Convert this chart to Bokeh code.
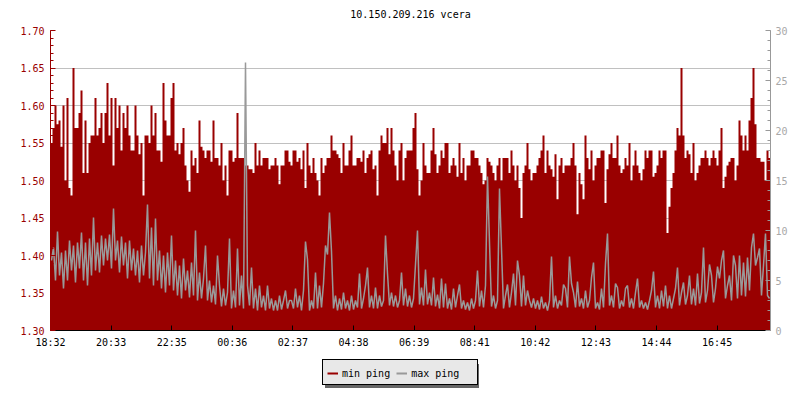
from bokeh.plotting import figure
from bokeh.layouts import column
from bokeh.models import (Range1d, LinearAxis, SingleIntervalTicker, FixedTicker,
                          PrintfTickFormatter, Legend, LegendItem)
from bokeh.embed import file_html
from bokeh.resources import INLINE

title_text = "10.150.209.216 vcera"
tick_labels = ["18:32", "20:33", "22:35", "00:36", "02:37", "04:38",
               "06:39", "08:41", "10:42", "12:43", "14:44", "16:45"]
tick_minutes = [0.0, 121.2, 242.4, 363.6, 484.8, 606.0,
                727.2, 848.4, 969.6, 1090.8, 1212.0, 1333.2]
left_ticks = [1.30, 1.35, 1.40, 1.45, 1.50, 1.55, 1.60, 1.65, 1.70]
span_minutes = 1440
step_minutes = 4
series_names = ["min ping", "max ping"]

# min ping (left axis), one value per 4 minutes
min_ping = [
    1.55, 1.57, 1.60, 1.575, 1.58, 1.545, 1.60, 1.50, 1.61, 1.49,
    1.48, 1.65, 1.57, 1.57, 1.59, 1.62, 1.51, 1.58, 1.51, 1.55,
    1.56, 1.56, 1.61, 1.56, 1.57, 1.59, 1.55, 1.59, 1.63, 1.56,
    1.61, 1.52, 1.61, 1.57, 1.60, 1.54, 1.59, 1.57, 1.60, 1.56,
    1.54, 1.54, 1.60, 1.56, 1.535, 1.55, 1.48, 1.56, 1.56, 1.55,
    1.60, 1.56, 1.59, 1.54, 1.54, 1.525, 1.63, 1.58, 1.56, 1.56,
    1.61, 1.63, 1.54, 1.55, 1.535, 1.55, 1.57, 1.52, 1.50, 1.485,
    1.54, 1.52, 1.53, 1.51, 1.58, 1.545, 1.54, 1.53, 1.54, 1.54,
    1.525, 1.58, 1.53, 1.53, 1.52, 1.55, 1.50, 1.52, 1.48, 1.54,
    1.54, 1.525, 1.53, 1.59, 1.53, 1.53, 1.53, 1.52, 1.52, 1.515,
    1.515, 1.51, 1.55, 1.52, 1.54, 1.52, 1.53, 1.53, 1.53, 1.515,
    1.52, 1.52, 1.53, 1.52, 1.495, 1.52, 1.52, 1.54, 1.54,
    1.525, 1.52, 1.54, 1.54, 1.525, 1.53, 1.515, 1.54, 1.49, 1.55,
    1.52, 1.51, 1.53, 1.51, 1.50, 1.48, 1.53, 1.51, 1.52, 1.53,
    1.53, 1.56, 1.54, 1.54, 1.535, 1.53, 1.51, 1.55, 1.52, 1.52,
    1.54, 1.56, 1.52, 1.52, 1.53, 1.53, 1.525, 1.54, 1.51, 1.53,
    1.535, 1.54, 1.515, 1.52, 1.48, 1.54, 1.56, 1.55, 1.55, 1.57,
    1.535, 1.57, 1.54, 1.52, 1.50, 1.54, 1.55, 1.50, 1.53, 1.54,
    1.54, 1.54, 1.57, 1.59, 1.515, 1.48, 1.50, 1.55, 1.52, 1.51,
    1.51, 1.54, 1.57, 1.535, 1.51, 1.52, 1.54, 1.53, 1.55, 1.55,
    1.51, 1.52, 1.53, 1.52, 1.505, 1.55, 1.51, 1.53, 1.50, 1.52,
    1.52, 1.54, 1.54, 1.53, 1.53, 1.52, 1.51, 1.495, 1.50, 1.53,
    1.525, 1.52, 1.51, 1.50, 1.52, 1.53, 1.50, 1.53, 1.53, 1.53,
    1.51, 1.54, 1.52, 1.50, 1.52, 1.49, 1.45, 1.51, 1.52, 1.55,
    1.515, 1.50, 1.51, 1.51, 1.52, 1.53, 1.54, 1.56, 1.51, 1.54,
    1.52, 1.515, 1.505, 1.535, 1.475, 1.52, 1.53, 1.51, 1.52, 1.52,
    1.52, 1.53, 1.55, 1.52, 1.455, 1.51, 1.495, 1.475, 1.56, 1.53,
    1.515, 1.54, 1.50, 1.52, 1.53, 1.53, 1.54, 1.54, 1.47, 1.515,
    1.535, 1.55, 1.53, 1.53, 1.56, 1.52, 1.51, 1.515, 1.53, 1.52,
    1.55, 1.50, 1.52, 1.54, 1.52, 1.51, 1.50, 1.515, 1.54, 1.53,
    1.54, 1.54, 1.505, 1.51, 1.52, 1.54, 1.53, 1.54, 1.54, 1.43,
    1.465, 1.49, 1.51, 1.54, 1.57, 1.56, 1.65, 1.56, 1.53, 1.54,
    1.535, 1.51, 1.55, 1.50, 1.51, 1.52, 1.53, 1.53, 1.54, 1.53,
    1.52, 1.53, 1.54, 1.53, 1.52, 1.54, 1.57, 1.49, 1.505, 1.52,
    1.525, 1.53, 1.53, 1.50, 1.52, 1.58, 1.56, 1.54, 1.56, 1.54,
    1.58, 1.61, 1.65, 1.575, 1.53, 1.53, 1.525, 1.525, 1.50, 1.54,
    1.53,
]

# max ping (right axis), one value per 4 minutes
max_ping = [
    7.0, 8.3, 5.0, 9.9, 5.5, 7.8, 4.2, 8.0, 5.0, 9.0,
    6.0, 8.5, 4.8, 8.8, 6.2, 9.8, 5.0, 8.8, 4.5, 9.2,
    5.5, 11.3, 6.0, 8.8, 5.8, 9.5, 6.5, 9.2, 7.0, 9.6,
    6.2, 12.2, 7.0, 9.0, 5.8, 9.4, 6.5, 8.8, 5.2, 9.0,
    6.0, 8.2, 5.5, 8.0, 4.8, 8.5, 5.5, 7.8, 12.6, 5.2,
    10.3, 4.5, 11.2, 5.0, 8.0, 4.2, 7.5, 3.8, 7.8, 4.5,
    9.5, 4.0, 7.0, 3.5, 6.5, 3.2, 7.2, 4.0, 6.0, 3.3,
    6.8, 3.5, 10.0, 3.0, 5.8, 3.2, 5.2, 8.5, 3.0, 5.0,
    2.8, 4.5, 2.6, 7.5, 4.5, 2.4, 4.2, 2.5, 3.8, 9.2,
    2.2, 4.0, 2.3, 8.2, 2.5, 5.5, 2.2, 26.8, 4.5, 2.5,
    6.3, 2.2, 4.2, 2.0, 4.5, 2.3, 3.5, 2.0, 4.5, 2.2,
    3.2, 2.0, 3.0, 2.0, 3.5, 2.1, 3.0, 4.0, 2.2, 3.0,
    3.0, 2.2, 4.2, 2.3, 3.5, 2.0, 4.0, 8.9, 7.1, 2.0,
    3.0, 2.2, 5.8, 2.2, 4.5, 2.3, 4.7, 8.5, 7.6, 11.8,
    7.9, 2.2, 3.5, 2.0, 3.2, 2.1, 3.8, 2.2, 3.0, 2.0,
    3.5, 2.1, 3.0, 2.3, 5.7, 2.2, 3.2, 4.5, 6.3, 2.3,
    3.5, 2.2, 4.3, 2.2, 3.5, 2.4, 3.0, 9.5, 5.7, 2.5,
    3.8, 2.4, 3.5, 2.3, 3.0, 5.8, 2.5, 4.2, 2.4, 3.5,
    2.3, 3.2, 6.6, 10.0, 2.6, 4.3, 2.5, 6.1, 2.6, 3.8,
    2.5, 5.3, 2.4, 3.6, 2.2, 5.2, 2.3, 4.7, 2.2, 3.2,
    2.1, 4.2, 2.3, 3.5, 4.6, 2.2, 3.0, 2.1, 2.8, 2.0,
    3.2, 2.2, 3.0, 6.0, 2.4, 4.0, 2.3, 4.5, 15.4, 8.8,
    2.4, 3.5, 2.2, 3.0, 14.2, 8.2, 2.2, 3.5, 4.6, 2.3,
    3.8, 5.7, 2.5, 7.0, 5.5, 2.4, 5.5, 2.5, 4.0, 3.0,
    2.3, 3.2, 2.2, 3.0, 2.1, 3.4, 2.2, 2.8, 2.0, 3.0,
    7.4, 2.3, 3.5, 2.2, 3.0, 2.5, 4.6, 4.2, 2.3, 7.4,
    4.7, 3.8, 2.3, 4.9, 2.4, 3.2, 2.2, 4.0, 2.3, 3.0,
    5.3, 6.8, 2.2, 2.8, 2.1, 4.2, 2.3, 6.7, 9.7, 2.5,
    3.5, 2.3, 4.7, 4.3, 2.2, 3.0, 2.4, 4.2, 4.5, 2.3,
    3.2, 2.2, 3.8, 5.2, 2.3, 3.0, 2.2, 2.8, 2.1, 3.0,
    4.0, 5.9, 2.3, 3.5, 2.2, 4.0, 2.4, 4.5, 2.2, 3.5,
    2.2, 3.2, 4.2, 6.3, 2.5, 3.8, 4.8, 2.6, 3.5, 5.5,
    2.6, 4.2, 2.5, 5.7, 2.7, 3.8, 8.3, 2.8, 4.0, 6.6,
    5.5, 2.8, 4.2, 6.4, 5.2, 7.0, 8.0, 3.2, 4.5, 5.5,
    3.0, 7.5, 6.5, 3.2, 7.5, 3.5, 6.8, 3.4, 7.3, 4.0,
    8.3, 9.7, 6.5, 7.3, 8.2, 3.5, 6.5, 9.7, 3.5, 3.2,
]

sample_t = [step_minutes * i + step_minutes / 2 for i in range(len(max_ping))]
# step outline of the min ping area (each value held for its 4-minute interval)
step_x, step_y = [], []
for i, v in enumerate(min_ping):
    step_x += [i * step_minutes, (i + 1) * step_minutes]
    step_y += [v, v]

RED = "#990000"
GRAY = "#999999"
FONT = "DejaVu Sans Mono"

p = figure(frame_width=720, frame_height=300, output_backend="svg",
           toolbar_location=None, title=title_text,
           x_range=Range1d(0, span_minutes),
           y_range=Range1d(left_ticks[0], left_ticks[-1]),
           min_border_left=50, min_border_right=25, min_border_top=30,
           min_border_bottom=20)
p.extra_y_ranges = {"max": Range1d(0, 30)}
p.outline_line_color = None
p.background_fill_color = "white"
p.border_fill_color = "white"

p.title.align = "center"
p.title.vertical_align = "top"
p.title.text_font = FONT
p.title.text_font_size = "10px"
p.title.text_font_style = "normal"
p.title.text_color = "black"
p.title.standoff = 17

p.varea(x=step_x, y1=left_ticks[0], y2=step_y, fill_color=RED)
p.line(x=sample_t, y=max_ping, y_range_name="max",
       line_color=GRAY, line_width=1.5)

# left axis
minor_left = [round(left_ticks[0] + 0.01 * k, 2) for k in range(41)]
left_ticker = FixedTicker(ticks=left_ticks, minor_ticks=minor_left)
yl = p.yaxis[0]
yl.ticker = left_ticker
yl.formatter = PrintfTickFormatter(format="%.2f")
yl.axis_line_color = RED
yl.major_tick_line_color = RED
yl.minor_tick_line_color = RED
yl.major_tick_in = 5
yl.major_tick_out = 0
yl.minor_tick_in = 3
yl.minor_tick_out = 0
yl.major_label_text_color = RED
yl.major_label_text_font = FONT
yl.major_label_text_font_size = "10px"
yl.major_label_standoff = 6

# right axis
yr = LinearAxis(y_range_name="max",
                ticker=SingleIntervalTicker(interval=5, num_minor_ticks=5))
yr.axis_line_color = GRAY
yr.major_tick_line_color = GRAY
yr.minor_tick_line_color = GRAY
yr.major_tick_in = 5
yr.major_tick_out = 0
yr.minor_tick_in = 3
yr.minor_tick_out = 0
yr.major_label_text_color = "#a8a8a8"
yr.major_label_text_font = FONT
yr.major_label_text_font_size = "10px"
yr.major_label_standoff = 5
p.add_layout(yr, "right")

# bottom axis
xa = p.xaxis[0]
xa.ticker = FixedTicker(ticks=tick_minutes, minor_ticks=[])
xa.major_label_overrides = dict(zip(tick_minutes, tick_labels))
xa.axis_line_color = "black"
xa.major_tick_line_color = "black"
xa.major_tick_in = 5
xa.major_tick_out = 0
xa.minor_tick_line_color = None
xa.major_label_text_color = "black"
xa.major_label_text_font = FONT
xa.major_label_text_font_size = "10px"
xa.major_label_standoff = 6

p.xgrid.visible = False
p.ygrid.ticker = left_ticker
p.ygrid.grid_line_color = "#c0c0c0"

# legend strip below the chart (its frame is aligned with the chart frame)
lf = figure(width=795, height=45, output_backend="svg", toolbar_location=None,
            x_range=Range1d(0, 1), y_range=Range1d(0, 1),
            x_axis_location=None, y_axis_location=None,
            min_border_left=0, min_border_right=0, min_border_top=0,
            min_border_bottom=0)
lf.outline_line_color = None
lf.grid.visible = False
lf.background_fill_color = "white"
lf.border_fill_color = "white"

nan = float("nan")
d_min = lf.line([nan], [nan], line_color=RED, line_width=2)
d_max = lf.line([nan], [nan], line_color=GRAY, line_width=2)
d_blank = lf.line([nan], [nan], line_alpha=0)


def box_legend(loc, fill, border):
    return Legend(items=[LegendItem(label=" ", renderers=[d_blank])], location=loc,
                  padding=0, margin=0, spacing=0, glyph_width=1, glyph_height=24,
                  label_standoff=0, label_width=153, label_height=24,
                  label_text_alpha=0, label_text_font_size="10px",
                  background_fill_color=fill, background_fill_alpha=1,
                  border_line_color=border if border else "white",
                  border_line_alpha=1 if border else 0,
                  border_line_width=1)


lf.add_layout(box_legend((275, 7), "#666666", None), "center")
lf.add_layout(box_legend((272, 10), "#e8e8e8", "black"), "center")

items = Legend(items=[LegendItem(label=series_names[0], renderers=[d_min]),
                      LegendItem(label=series_names[1], renderers=[d_max])],
               location=(272, 10), orientation="horizontal",
               padding=5, margin=0, spacing=6, glyph_width=11, glyph_height=14,
               label_standoff=4, label_width=10, label_height=14,
               label_text_font=FONT, label_text_font_size="10px",
               label_text_color="black",
               background_fill_alpha=0, border_line_alpha=0)
lf.add_layout(items, "center")

layout = column(p, lf, spacing=0)
open("out.html", "w").write(file_html(layout, INLINE))
